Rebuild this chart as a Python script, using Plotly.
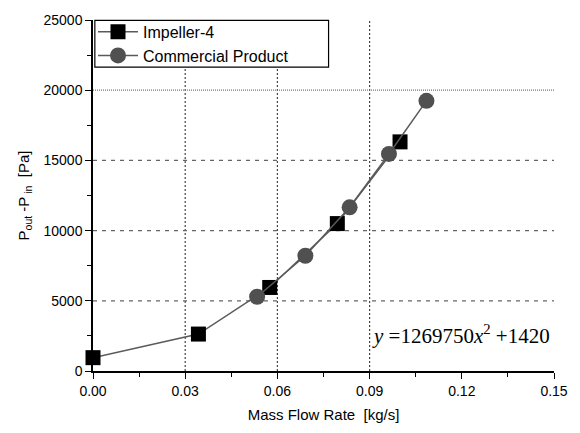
import plotly.graph_objects as go

# Data
imp_x = [0.0, 0.0343, 0.0575, 0.0795, 0.0999]
imp_y = [950, 2630, 5950, 10500, 16320]
com_x = [0.0534, 0.0691, 0.0835, 0.0963, 0.1085]
com_y = [5290, 8210, 11660, 15460, 19240]

x_ticks = [0.0, 0.03, 0.06, 0.09, 0.12, 0.15]
x_ticklabels = ["0.00", "0.03", "0.06", "0.09", "0.12", "0.15"]
y_ticks = [0, 5000, 10000, 15000, 20000, 25000]
y_ticklabels = ["0", "5000", "10000", "15000", "20000", "25000"]
x_grid = [0.03, 0.06, 0.09]
y_grid_dash = [5000, 10000, 15000]
y_grid_dot = [20000]

FONT = "Liberation Sans, Arial, sans-serif"
LINE_COLOR = "#5a5a5a"

fig = go.Figure()
fig.add_trace(go.Scatter(
    x=imp_x, y=imp_y, mode="lines+markers", name="Impeller-4",
    line=dict(color=LINE_COLOR, width=1.5),
    marker=dict(symbol="square", size=15, color="black"),
    cliponaxis=False,
))
fig.add_trace(go.Scatter(
    x=com_x, y=com_y, mode="lines+markers", name="Commercial Product",
    line=dict(color=LINE_COLOR, width=1.5),
    marker=dict(symbol="circle", size=16, color="#505050"),
    cliponaxis=False,
))

shapes = []
for gx in x_grid:
    shapes.append(dict(type="line", xref="x", yref="y", x0=gx, x1=gx, y0=0, y1=25000,
                       line=dict(color="#444444", width=1.2, dash="2px,2px"), layer="below"))
for gy in y_grid_dash:
    shapes.append(dict(type="line", xref="x", yref="y", x0=0, x1=0.15, y0=gy, y1=gy,
                       line=dict(color="#666666", width=1.2, dash="4px,5px"), layer="below"))
for gy in y_grid_dot:
    shapes.append(dict(type="line", xref="x", yref="y", x0=0, x1=0.15, y0=gy, y1=gy,
                       line=dict(color="#777777", width=1.2, dash="1px,1px"), layer="below"))
# legend frame
shapes.append(dict(type="rect", xref="paper", yref="paper", x0=0.004, x1=0.511, y0=0.866, y1=0.999,
                   fillcolor="white", line=dict(color="black", width=1.2), layer="above"))

fig.update_layout(
    width=580, height=433,
    margin=dict(l=93, r=23, t=16, b=60),
    paper_bgcolor="white", plot_bgcolor="white",
    font=dict(family=FONT, size=14, color="black"),
    showlegend=True,
    legend=dict(x=0.0, y=1.015, xanchor="left", yanchor="top",
                bgcolor="rgba(0,0,0,0)", borderwidth=0,
                font=dict(size=16, family=FONT), tracegroupgap=0,
                itemwidth=40),
    shapes=shapes,
    annotations=[dict(
        x=0.0902, y=2610, xref="x", yref="y", xanchor="left", yanchor="middle",
        text="<i>y</i> =1269750<i>x</i><sup>2</sup> +1420", showarrow=False,
        font=dict(family="Liberation Serif, Times New Roman, serif", size=21, color="black"),
    )],
)
fig.update_xaxes(
    range=[0, 0.15], tickvals=x_ticks, ticktext=x_ticklabels,
    showgrid=False, zeroline=False, showline=True, linecolor="black", linewidth=1.5,
    ticks="outside", ticklen=6, tickcolor="black", tickwidth=1.2,
    minor=dict(ticks="outside", ticklen=4, dtick=0.015, tickcolor="black"),
    tickfont=dict(size=14),
    title=dict(text="Mass Flow Rate  [kg/s]", font=dict(size=15), standoff=12),
)
fig.update_yaxes(
    range=[0, 25000], tickvals=y_ticks, ticktext=y_ticklabels,
    showgrid=False, zeroline=False, showline=True, linecolor="black", linewidth=1.5,
    ticks="outside", ticklen=6, tickcolor="black", tickwidth=1.2,
    minor=dict(ticks="outside", ticklen=4, dtick=2500, tickcolor="black"),
    tickfont=dict(size=14),
    title=dict(text="P<sub>out</sub> -P<sub> in</sub>  [Pa]", font=dict(size=15), standoff=10),
)

fig.write_html("out.html")
